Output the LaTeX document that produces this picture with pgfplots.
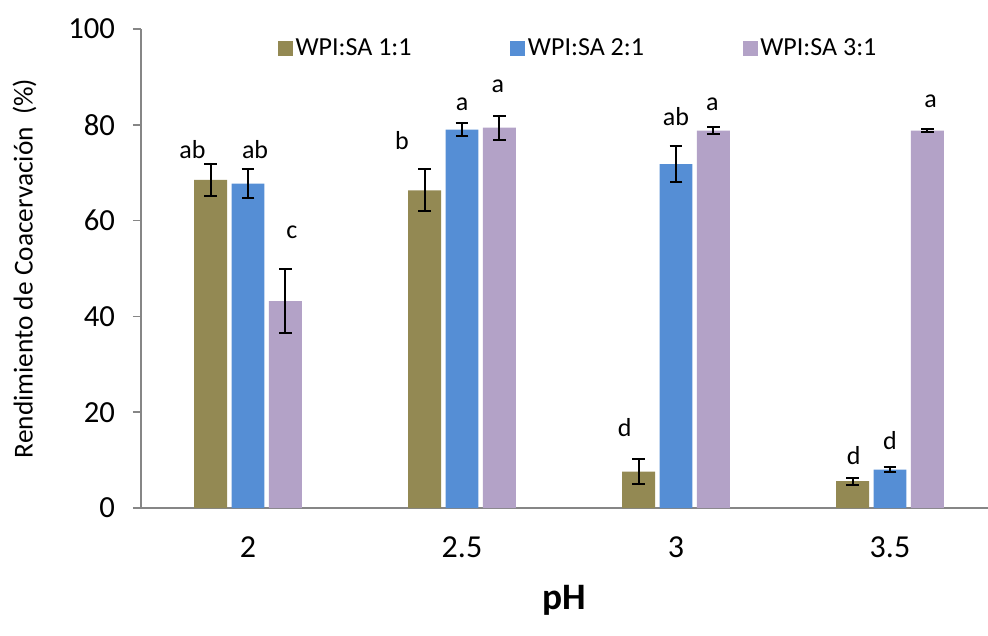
\documentclass[border=0pt]{standalone}
\usepackage{pgfplots}
\pgfplotsset{compat=1.18}
\usepackage{fontspec}
\setmainfont{Carlito}
\usetikzlibrary{calc}
\definecolor{c1}{HTML}{938953}
\definecolor{c2}{HTML}{558ED5}
\definecolor{c3}{HTML}{B3A2C7}
\definecolor{axgray}{HTML}{868686}
\begin{document}
\begin{tikzpicture}
\begin{axis}[name=ax, scale only axis, width=635.25pt, height=359.25pt,
 ybar, bar width=0.154,
 xmin=-0.5, xmax=3.458, ymin=0, ymax=100,
 xtick={0,1,2,3}, xticklabels={2,2.5,3,3.5},
 ytick={0,20,...,100},
 axis x line*=bottom, axis y line*=left,
 axis line style={axgray, line width=1.2pt},
 x tick style={draw=none},
 y tick style={axgray, line width=1.2pt},
 tick align=outside, major tick length=6pt,
 /pgf/number format/assume math mode=true,
 yticklabel style={font=\fontsize{23}{25}\selectfont, xshift=-10pt},
 xticklabel style={font=\fontsize{24}{26}\selectfont, yshift=-12pt},
 xlabel={pH}, xlabel style={font=\fontsize{28}{30}\selectfont\bfseries, yshift=-14pt},
 ylabel={Rendimiento de Coacervación~~(\%)},
 ylabel style={font=\fontsize{20.5}{22}\selectfont, yshift=17pt},
 legend columns=3,
 legend style={draw=none, fill=none, at={(0.5165,0.96)}, anchor=center,
   font=\fontsize{19.5}{22}\selectfont,
   /tikz/every even column/.append style={column sep=72pt}},
 legend image code/.code={\fill[#1] (0pt,-5.6pt) rectangle (11.25pt,5.6pt);},
 error bars/error bar style={black, line width=1.5pt},
 error bars/error mark options={rotate=90, black, mark size=4.8pt, line width=1.5pt},
]
\addplot[bar shift=-0.175, fill=c1, draw=none,
  error bars/.cd, y dir=both, y explicit]
 coordinates {(0,68.5) +- (0,3.4) (1,66.3) +- (0,4.4) (2,7.6) +- (0,2.6) (3,5.6) +- (0,0.7)};
\addlegendentry{WPI:SA 1:1}
\addplot[bar shift=0, fill=c2, draw=none,
  error bars/.cd, y dir=both, y explicit]
 coordinates {(0,67.7) +- (0,3.0) (1,79.0) +- (0,1.3) (2,71.8) +- (0,3.8) (3,8.0) +- (0,0.5)};
\addlegendentry{WPI:SA 2:1}
\addplot[bar shift=0.175, fill=c3, draw=none,
  error bars/.cd, y dir=both, y explicit]
 coordinates {(0,43.2) +- (0,6.6) (1,79.4) +- (0,2.5) (2,78.8) +- (0,0.8) (3,78.8) +- (0,0.3)};
\addlegendentry{WPI:SA 3:1}
\addplot[sharp plot, bar shift=0, draw=none, mark=none, forget plot, nodes near coords, point meta=explicit symbolic,
  nodes near coords style={anchor=center, text=black, font=\fontsize{19.5}{22}\selectfont}]
 coordinates {(-0.26,74.9)[ab] (0.033,74.9)[ab] (0.205,57.6)[c]
  (0.72,76.8)[b] (1.0,84.3)[a] (1.168,88.1)[a]
  (1.76,16.8)[d] (2.0,81.8)[ab] (2.17,84.3)[a]
  (2.83,11.0)[d] (3.0,14.0)[d] (3.19,85.0)[a]};
\end{axis}
\pgfresetboundingbox
\path[use as bounding box] ($(ax.south west)+(-105.75pt,-95.25pt)$) rectangle ($(ax.north east)+(0pt,21.75pt)$);
\end{tikzpicture}
\end{document}
